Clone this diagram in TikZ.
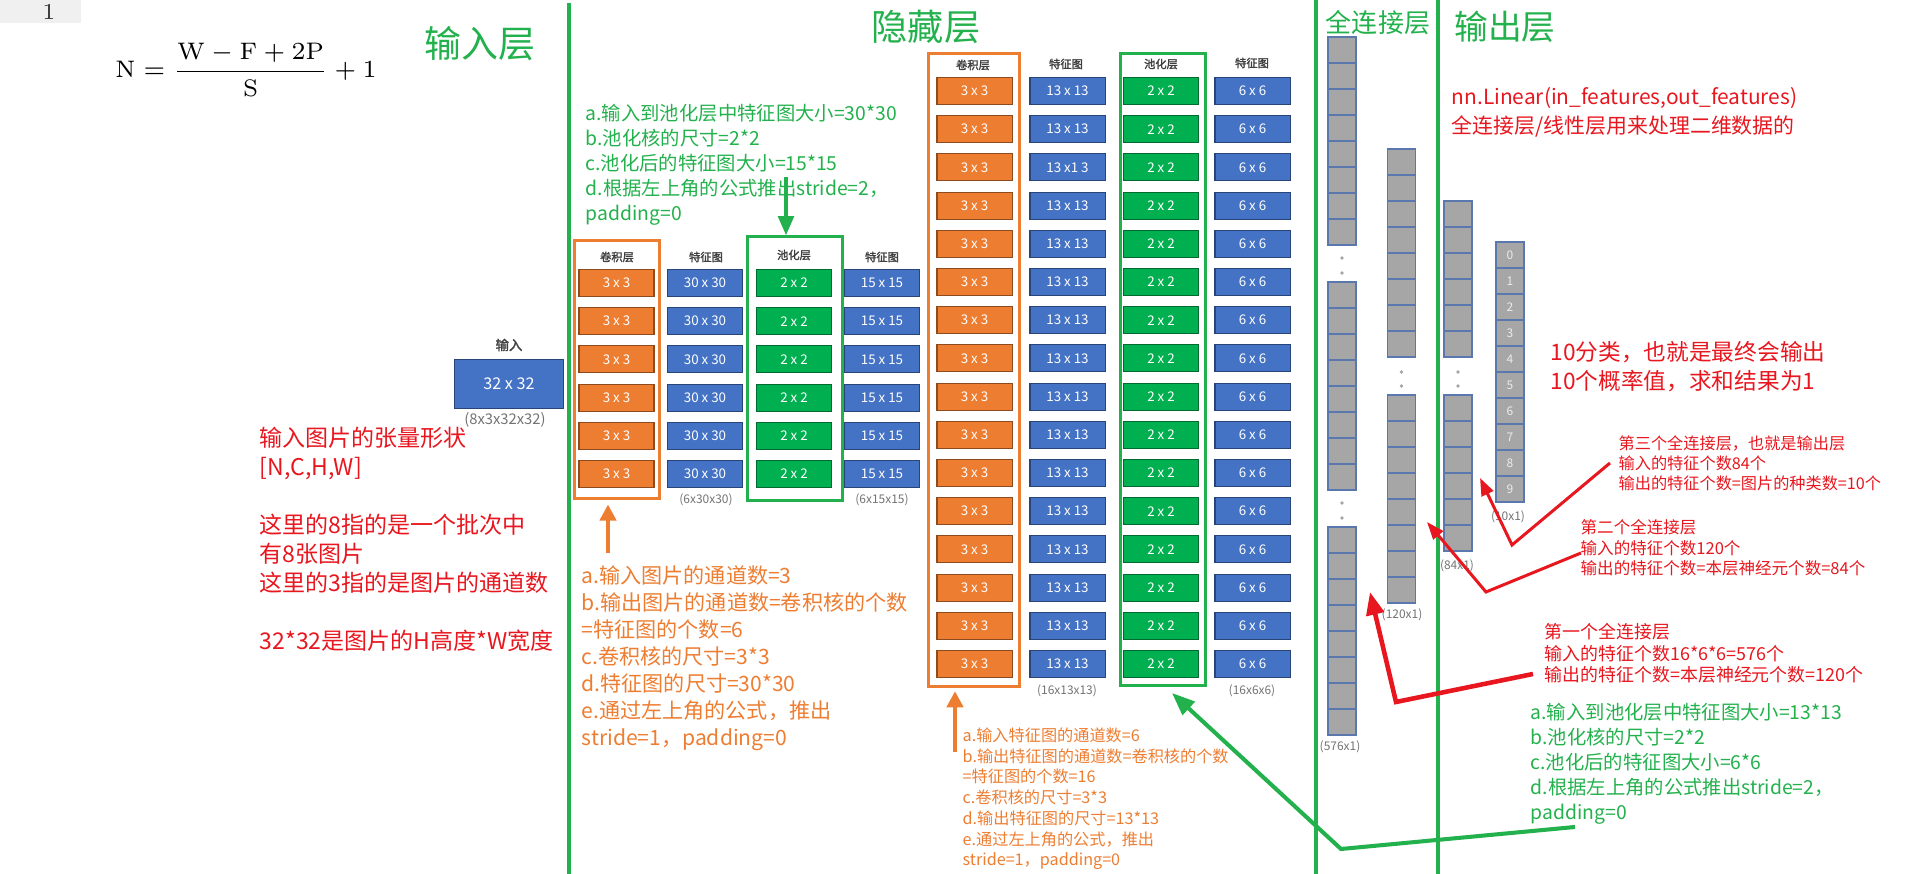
\documentclass[tikz,border=0pt]{standalone}
\usepackage{fontspec}
\newfontfamily\cjk{Noto Sans CJK SC}[AutoFakeBold=2]
\usetikzlibrary{arrows.meta}
\definecolor{lineG}{HTML}{22B14C}
\definecolor{poolG}{HTML}{00B050}
\definecolor{convO}{HTML}{ED7D31}
\definecolor{mapB}{HTML}{4472C4}
\definecolor{noteR}{HTML}{E8161E}
\definecolor{cellG}{HTML}{A6A6A6}
\definecolor{cellB}{HTML}{5B78AE}
\newcommand{\fsz}[2]{\fontsize{#1}{#2}\selectfont}

\begin{document}
\begin{tikzpicture}[
  x=0.01cm, y=-0.01cm,
  cell/.style   = {draw=#1!60!black, fill=#1, line width=0.3pt, inner sep=0,
                   minimum width=0.75cm, minimum height=0.27cm,
                   text=white, font=\cjk\fsz{3.8}{4}},
  kern/.style   = {cell=convO},
  fmap/.style   = {cell=mapB},
  pool/.style   = {cell=poolG},
  head/.style   = {inner sep=0, text=black!75, font=\cjk\bfseries\fsz{3.2}{4}},
  dims/.style   = {inner sep=0, text=black!55, font=\cjk\fsz{3.4}{4}},
  frameO/.style = {draw=convO, line width=0.85pt, inner sep=0},
  frameG/.style = {draw=lineG, line width=0.85pt, inner sep=0},
  fc/.style     = {draw=cellB, fill=cellG, line width=0.45pt, inner sep=0,
                   minimum width=0.28cm, minimum height=0.26cm,
                   text=white!92!black, font=\cjk\fsz{3.4}{4}},
  title/.style  = {inner sep=0, text=lineG, font=\cjk\fsz{#1}{#1}},
  note/.style n args = {3}{align=left, anchor=north west, inner sep=0,
                   text=#1, font=\cjk\fsz{#2}{#3}},
  sep/.style    = {draw=lineG, line width=1.4pt},
  arO/.style    = {draw=convO, line width=1.15pt, -{Triangle[length=4.6pt,width=4.6pt]}},
  arG/.style    = {draw=lineG, line width=1.15pt, -{Triangle[length=5.5pt,width=4.4pt]}},
  arR/.style    = {draw=noteR, line width=0.85pt, -{Triangle[length=5pt,width=3.6pt]}},
]
\useasboundingbox (0,0) rectangle (1920,874);

% ---- corner / formula ------------------------------------------------------
\fill[black!6] (0,0) rectangle (81,23);
\node[inner sep=0, anchor=base, text=black!80, font=\rmfamily\fsz{6.5}{7}] (line) at (49,20) {1};
\node[inner sep=0] (formula) at (246,70)
  {\fsz{6.8}{9}$\displaystyle\mathrm{N}=\frac{\mathrm{W}-\mathrm{F}+2\mathrm{P}}{\mathrm{S}}+1$};

% ---- layer titles and separators -------------------------------------------
\node[title=10.5] (tin)  at (480,44)  {输入层};
\node[title=10.3] (thid) at (926,27)  {隐藏层};
\node[title=7.4]  (tfc)  at (1378,23) {全连接层};
\node[title=9.6]  (tout) at (1505,27) {输出层};

\draw[sep] (569,3) -- (569,874);
\draw[sep] (1316,0) -- (1316,874);
\draw[sep] (1438,0) -- (1438,874);

% ---- input -----------------------------------------------------------------
\node[head, font=\cjk\bfseries\fsz{3.8}{4}] (inhead) at (509,345) {输入};
\node[fmap, minimum width=1.08cm, minimum height=0.49cm, font=\cjk\fsz{4.6}{5}] (inbox) at (509,384) {32 x 32};
\node[dims, font=\cjk\fsz{4.2}{5}] (indim) at (505,420) {(8x3x32x32)};

\node[note={noteR}{6.55}{8.25}] (intxt) at (259,426)
  {输入图片的张量形状\\{[N,C,H,W]}\\~\\这里的8指的是一个批次中\\有8张图片\\这里的3指的是图片的通道数\\~\\32*32是图片的H高度*W宽度};

% ---- first conv / pool stage -----------------------------------------------
\node[frameO, minimum width=0.84cm, minimum height=2.57cm] (conv1) at (617,369.5) {};
\node[frameG, minimum width=0.94cm, minimum height=2.63cm] (pool1) at (795,368.5) {};
\node[head] (h1a) at (617,257) {卷积层};
\node[head] (h1b) at (706,257) {特征图};
\node[head] (h1c) at (794,255) {池化层};
\node[head] (h1d) at (882,257) {特征图};
\foreach \i in {0,...,5}{
  \node[kern] (k1-\i) at (616.5,{283+38.2*\i}) {3 x 3};
  \node[fmap] (m1-\i) at (705,{283+38.2*\i})   {30 x 30};
  \node[pool] (p1-\i) at (794,{283+38.2*\i})   {2 x 2};
  \node[fmap] (q1-\i) at (882,{283+38.2*\i})   {15 x 15};
}
\node[dims] (d1a) at (706,500) {(6x30x30)};
\node[dims] (d1b) at (882,500) {(6x15x15)};

\node[note={lineG}{5.5}{7.1}] (pooltxt1) at (585,104)
  {a.输入到池化层中特征图大小=30*30\\b.池化核的尺寸=2*2\\c.池化后的特征图大小=15*15\\d.根据左上角的公式推出stride=2，\\padding=0};
\coordinate (g1) at (786,177);
\draw[arG] (g1) -- (g1 |- pool1.north);

\node[note={convO}{6.0}{7.7}] (convtxt1) at (581,565)
  {a.输入图片的通道数=3\\b.输出图片的通道数=卷积核的个数\\=特征图的个数=6\\c.卷积核的尺寸=3*3\\d.特征图的尺寸=30*30\\e.通过左上角的公式，推出\\stride=1，padding=0};
\coordinate (o1) at (608,553);
\draw[arO, shorten >=1.4pt] (o1) -- (o1 |- conv1.south);

% ---- second conv / pool stage ----------------------------------------------
\node[frameO, minimum width=0.90cm, minimum height=6.32cm] (conv2) at (974,370) {};
\node[frameG, minimum width=0.84cm, minimum height=6.31cm] (pool2) at (1163,369.5) {};
\node[head] (h2a) at (973,65)  {卷积层};
\node[head] (h2b) at (1066,64) {特征图};
\node[head] (h2c) at (1161,64) {池化层};
\node[head] (h2d) at (1252,63) {特征图};
\foreach \i in {0,...,15}{
  \node[kern] (k2-\i) at (974.5,{91+38.2*\i})  {3 x 3};
  \node[fmap] (m2-\i) at (1067.5,{91+38.2*\i}) {\ifnum\i=2 13 x1 3\else 13 x 13\fi};
  \node[pool] (p2-\i) at (1161,{91+38.2*\i})   {2 x 2};
  \node[fmap] (q2-\i) at (1252.5,{91+38.2*\i}) {6 x 6};
}
\node[dims] (d2a) at (1067,691) {(16x13x13)};
\node[dims] (d2b) at (1252,691) {(16x6x6)};

\node[note={convO}{4.6}{5.9}] (convtxt2) at (962,727)
  {a.输入特征图的通道数=6\\b.输出特征图的通道数=卷积核的个数\\=特征图的个数=16\\c.卷积核的尺寸=3*3\\d.输出特征图的尺寸=13*13\\e.通过左上角的公式，推出\\stride=1，padding=0};
\coordinate (o2) at (955,752);
\draw[arO, shorten >=1pt] (o2) -- (o2 |- conv2.south);

% ---- fully connected columns -----------------------------------------------
\foreach \s in {37,282,527}
  \foreach \k in {0,...,7}
    \node[fc] (f1-\s-\k) at (1342,{\s+13+26*\k}) {};
\foreach \s in {149,395}
  \foreach \k in {0,...,7}
    \node[fc] (f2-\s-\k) at (1401.5,{\s+13+26*\k}) {};
\foreach \s in {201,395}
  \foreach \k in {0,...,5}
    \node[fc] (f3-\s-\k) at (1458,{\s+13+26*\k}) {};
\foreach \k in {0,...,9}
  \node[fc] (f4-\k) at (1510,{255+26*\k}) {\k};

\foreach \x/\y in {1342/258,1342/273,1342/503,1342/518,1401.5/372,1401.5/386,1458/372,1458/386}
  \fill[black!35] (\x,\y) circle[radius=0.55pt];

\node[dims] (d3a) at (1340,747) {(576x1)};
\node[dims] (d3b) at (1402,615) {(120x1)};
\node[dims] (d3c) at (1457,566) {(84x1)};
\node[dims] (d3d) at (1508,517) {(10x1)};

% ---- notes on the right ----------------------------------------------------
\node[note={noteR}{5.95}{8.2}] (lintxt) at (1451,87)
  {nn.Linear(in\_features,out\_features)\\全连接层/线性层用来处理二维数据的};
\node[note={noteR}{6.45}{8.25}] (clstxt) at (1550,341)
  {10分类，也就是最终会输出\\10个概率值，求和结果为1};

\node[note={noteR}{4.6}{5.7}] (fc3txt) at (1618,435)
  {第三个全连接层，也就是输出层\\输入的特征个数84个\\输出的特征个数=图片的种类数=10个};
\node[note={noteR}{4.7}{5.8}] (fc2txt) at (1580,519)
  {第二个全连接层\\输入的特征个数120个\\输出的特征个数=本层神经元个数=84个};
\node[note={noteR}{5.1}{6.1}] (fc1txt) at (1544,623)
  {第一个全连接层\\输入的特征个数16*6*6=576个\\输出的特征个数=本层神经元个数=120个};

\coordinate (r3a) at (1610,463);
\coordinate (r3b) at (1512,545);
\coordinate (r3c) at (1480,478);
\draw[arR] (r3a) -- (r3b) -- (r3c);
\coordinate (r2a) at (1581,553);
\coordinate (r2b) at (1486,592);
\coordinate (r2c) at (1427,522);
\draw[arR] (r2a) -- (r2b) -- (r2c);
\coordinate (r1a) at (1533,674);
\coordinate (r1b) at (1396,702);
\coordinate (r1c) at (1370,592);
\draw[arR, line width=1.3pt, -{Triangle[length=6.5pt,width=5pt]}] (r1a) -- (r1b) -- (r1c);

\node[note={lineG}{5.5}{7.1}] (pooltxt2) at (1530,703)
  {a.输入到池化层中特征图大小=13*13\\b.池化核的尺寸=2*2\\c.池化后的特征图大小=6*6\\d.根据左上角的公式推出stride=2，\\padding=0};
\coordinate (g2a) at (1575,827);
\coordinate (g2b) at (1341,849);
\coordinate (g2c) at (1172,693);
\draw[arG, -{Triangle[length=6.5pt,width=5pt]}] (g2a) -- (g2b) -- (g2c);

\end{tikzpicture}
\end{document}
